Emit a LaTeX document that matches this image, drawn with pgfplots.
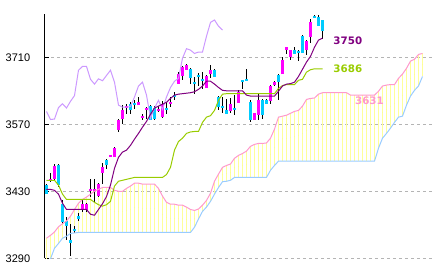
\documentclass[border=0pt]{standalone}
\usepackage{pgfplots}
\pgfplotsset{compat=1.18}
\usepackage{pgfplotstable}
\usepackage{fontspec}
\setmainfont{Liberation Sans}
\newfontfamily\lblfont{DejaVu Sans}
\definecolor{tenkan}{HTML}{800080}
\definecolor{kijun}{HTML}{99CC00}
\definecolor{chikou}{HTML}{CC99FF}
\definecolor{spanA}{HTML}{FF99CC}
\definecolor{spanB}{HTML}{99CCFF}
\definecolor{cloudc}{HTML}{FFFF99}
\definecolor{upc}{HTML}{FF00FF}
\definecolor{dnc}{HTML}{00CCFF}
\definecolor{gridc}{HTML}{B4B4B4}

\pgfplotstableread{
i A B
0 3332 3285
1 3338 3289
2 3345 3311
3 3356 3321
4 3362 3332
5 3368 3336
6 3378 3342
7 3392 3343
8 3405 3344
9 3413 3344
10 3418 3344
11 3424 3344
12 3430 3344
13 3434 3344
14 3438 3344
15 3438 3344
16 3438 3344
17 3432 3344
18 3430 3344
19 3430 3344
20 3436 3344
21 3441 3344
22 3447 3344
23 3447 3344
24 3445 3344
25 3445 3344
26 3445 3344
27 3445 3344
28 3436 3344
29 3420 3344
30 3407 3344
31 3403 3344
32 3403 3344
33 3401 3344
34 3401 3344
35 3397 3344
36 3392 3344
37 3390 3355
38 3393 3372
39 3401 3388
40 3411 3397
41 3426 3409
42 3451 3424
43 3466 3438
44 3480 3450
45 3484 3451
46 3487 3453
47 3499 3459
48 3505 3459
49 3509 3459
50 3514 3459
51 3524 3459
52 3528 3459
53 3530 3459
54 3530 3459
55 3531 3459
56 3541 3474
57 3560 3484
58 3585 3493
59 3587 3493
60 3589 3493
61 3593 3493
62 3597 3493
63 3599 3493
64 3608 3493
65 3622 3493
66 3624 3493
67 3625 3493
68 3633 3493
69 3636 3493
70 3636 3493
71 3636 3493
72 3636 3493
73 3636 3493
74 3636 3493
75 3636 3493
76 3631 3493
77 3631 3493
78 3631 3493
79 3631 3493
80 3631 3493
81 3631 3493
82 3631 3493
83 3639 3520
84 3650 3541
85 3652 3551
86 3653 3562
87 3653 3574
88 3666 3585
89 3675 3587
90 3687 3610
91 3702 3629
92 3706 3641
93 3716 3650
94 3718 3670
}\cloudtab

\pgfplotstableread{
i v
0 3453
1 3453
2 3453
3 3443
4 3424
5 3413
6 3413
7 3413
8 3413
9 3413
10 3413
11 3413
12 3407
13 3402
14 3399
15 3402
16 3409
17 3441
18 3451
19 3453
20 3455
21 3457
22 3459
23 3459
24 3459
25 3459
26 3459
27 3459
28 3459
29 3459
30 3465
31 3480
32 3516
33 3534
34 3541
35 3551
36 3554
37 3555
38 3555
39 3574
40 3585
41 3588
42 3599
43 3620
44 3633
45 3634
46 3634
47 3634
48 3634
49 3634
50 3634
51 3634
52 3634
53 3634
54 3634
55 3634
56 3634
57 3634
58 3645
59 3651
60 3653
61 3653
62 3653
63 3662
64 3664
65 3679
66 3684
67 3686
68 3686
69 3686
}\kijuntab

\pgfplotstableread{
i v
0 3434
1 3434
2 3432
3 3424
4 3405
5 3392
6 3392
7 3392
8 3392
9 3392
10 3392
11 3382
12 3380
13 3392
14 3404
15 3419
16 3443
17 3478
18 3501
19 3512
20 3516
21 3526
22 3539
23 3551
24 3564
25 3576
26 3591
27 3604
28 3608
29 3612
30 3616
31 3624
32 3631
33 3633
34 3634
35 3635
36 3636
37 3638
38 3643
39 3650
40 3660
41 3660
42 3654
43 3647
44 3641
45 3640
46 3640
47 3640
48 3640
49 3640
50 3631
51 3629
52 3629
53 3629
54 3629
55 3629
56 3629
57 3629
58 3639
59 3650
60 3654
61 3655
62 3658
63 3670
64 3685
65 3700
66 3712
67 3731
68 3746
69 3750
}\tenkantab

\pgfplotstableread{
i v
0 3597
1 3580
2 3581
3 3605
4 3613
5 3604
6 3618
7 3630
8 3683
9 3691
10 3691
11 3664
12 3654
13 3665
14 3661
15 3672
16 3683
17 3658
18 3610
19 3606
20 3606
21 3607
22 3627
23 3650
24 3658
25 3631
26 3583
27 3604
28 3620
29 3601
30 3627
31 3647
32 3660
33 3666
34 3708
35 3728
36 3725
37 3718
38 3721
39 3721
40 3754
41 3783
42 3788
43 3775
44 3767
}\chikoutab

\pgfplotstableread{
i h l t b
1 3468.4 3449.6 3453.1 3453.1
2 3488.0 3453.1 3483.0 3456.7
9 3411.3 3386.8 3402.9 3394.0
10 3405.0 3386.2 3402.9 3391.4
11 3455.2 3417.6 3433.2 3433.2
12 3455.2 3407.8 3432.2 3432.2
13 3446.8 3417.6 3444.7 3419.7
14 3488.6 3446.2 3480.9 3468.4
16 3505.4 3501.2 3504.3 3504.3
17 3522.7 3501.2 3520.0 3501.8
18 3582.1 3554.0 3578.5 3557.6
19 3609.8 3571.6 3599.4 3582.1
20 3611.9 3592.5 3606.3 3606.3
23 3627.2 3609.8 3613.4 3613.4
24 3592.5 3578.5 3587.5 3583.3
25 3606.3 3582.1 3601.5 3601.5
28 3607.8 3595.2 3599.4 3599.4
29 3618.2 3584.1 3613.4 3585.4
31 3627.2 3606.3 3614.6 3614.6
33 3679.4 3655.2 3676.1 3655.2
34 3691.4 3662.1 3689.9 3670.5
35 3695.5 3683.0 3693.5 3683.0
40 3672.5 3645.4 3670.5 3646.9
41 3693.5 3666.3 3684.5 3676.1
46 3625.9 3593.8 3613.4 3598.4
48 3641.2 3614.0 3637.7 3614.6
52 3593.1 3578.5 3593.1 3579.5
53 3632.9 3578.5 3621.3 3588.9
56 3651.7 3613.4 3649.6 3618.8
57 3660.0 3650.6 3658.6 3651.7
59 3710.8 3674.6 3705.4 3676.1
60 3729.0 3717.9 3728.3 3728.3
61 3724.8 3703.9 3724.8 3710.8
65 3745.7 3714.3 3744.7 3724.8
66 3789.6 3739.4 3783.3 3752.0
}\uptab

\pgfplotstableread{
i h l t b
0 3444.7 3423.8 3442.7 3425.3
3 3488.0 3439.1 3484.5 3442.7
4 3412.8 3362.6 3404.4 3365.9
5 3376.4 3327.7 3368.0 3357.0
6 3362.6 3294.3 3327.7 3322.0
7 3357.0 3342.3 3352.2 3347.1
8 3384.1 3367.4 3377.9 3373.1
15 3497.0 3477.6 3494.9 3484.5
21 3616.7 3592.5 3613.4 3600.9
22 3620.3 3602.9 3611.9 3611.9
26 3609.8 3578.5 3607.8 3579.9
27 3607.8 3580.0 3605.0 3582.1
30 3616.7 3592.5 3602.9 3602.9
32 3637.7 3620.3 3628.7 3628.7
36 3687.2 3655.2 3686.5 3667.7
37 3669.0 3634.3 3656.5 3656.5
38 3677.4 3649.6 3670.5 3670.5
39 3679.4 3644.8 3662.1 3662.1
42 3685.1 3668.4 3684.5 3669.0
43 3628.7 3599.4 3626.6 3605.7
44 3626.6 3593.8 3605.7 3605.7
45 3623.8 3591.0 3600.9 3591.0
47 3630.8 3588.9 3602.5 3602.5
49 3660.0 3644.8 3660.0 3660.0
50 3686.5 3661.1 3662.1 3662.1
51 3620.3 3574.9 3616.7 3579.5
54 3622.4 3582.1 3621.8 3588.9
55 3622.4 3611.9 3621.8 3613.4
58 3674.6 3620.3 3672.5 3658.6
62 3731.7 3717.5 3724.8 3717.9
63 3724.8 3702.4 3723.3 3719.1
64 3756.2 3718.5 3754.1 3718.5
67 3797.9 3791.7 3795.9 3791.7
68 3797.9 3775.0 3794.5 3775.0
69 3788.6 3749.3 3787.5 3765.1
}\dntab

\pgfplotsset{
  nomark/.style={only marks, mark=*, mark size=0pt, mark options={draw=none, fill=none}, forget plot},
}

\begin{document}
\begin{tikzpicture}
\begin{axis}[
  scale only axis, width=388pt, height=244.3pt,
  xmin=-0.375, xmax=96.625, ymin=3290, ymax=3800.5,
  axis x line=none, axis y line*=left,
  ytick={3290,3430,3570,3710}, xtick=\empty,
  ytick align=inside, major tick length=4pt,
  ymajorgrids,
  grid style={gridc, dash pattern=on 3pt off 3pt, line width=1pt},
  yticklabel style={font=\fontsize{11}{12}\selectfont, xshift=-11.3pt},
  /pgf/number format/assume math mode=true,
  /pgf/number format/1000 sep={},
  axis line style={black, line width=1pt},
  tick style={black, line width=1pt},
]
% cloud hatching
\addplot[nomark,
  error bars/.cd, y dir=both, y explicit, error mark=none,
  error bar style={draw=cloudc, line width=1pt}]
  table[x=i, y expr={(\thisrow{A}+\thisrow{B})/2}, y error expr={abs(\thisrow{A}-\thisrow{B})/2}] \cloudtab;
% wicks
\addplot[nomark,
  error bars/.cd, y dir=both, y explicit, error mark=none,
  error bar style={draw=black, line width=1pt}]
  table[x=i, y expr={(\thisrow{h}+\thisrow{l})/2}, y error expr={(\thisrow{h}-\thisrow{l})/2}] \uptab;
\addplot[nomark,
  error bars/.cd, y dir=both, y explicit, error mark=none,
  error bar style={draw=black, line width=1pt}]
  table[x=i, y expr={(\thisrow{h}+\thisrow{l})/2}, y error expr={(\thisrow{h}-\thisrow{l})/2}] \dntab;
% bodies
\addplot[nomark,
  error bars/.cd, y dir=both, y explicit, error mark=none,
  error bar style={draw=upc, line width=3.7pt}]
  table[x=i, y expr={(\thisrow{t}+\thisrow{b})/2}, y error expr={max((\thisrow{t}-\thisrow{b})/2,2.2)}] \uptab;
\addplot[nomark,
  error bars/.cd, y dir=both, y explicit, error mark=none,
  error bar style={draw=dnc, line width=3.7pt}]
  table[x=i, y expr={(\thisrow{t}+\thisrow{b})/2}, y error expr={max((\thisrow{t}-\thisrow{b})/2,2.2)}] \dntab;
% lines
\addplot[spanA, line width=1pt, mark=none] table[x=i, y=A] \cloudtab;
\addplot[spanB, line width=1pt, mark=none] table[x=i, y=B] \cloudtab;
\addplot[chikou, line width=1pt, mark=none] table[x=i, y=v] \chikoutab;
\addplot[kijun, line width=1pt, mark=none] table[x=i, y=v] \kijuntab;
\addplot[tenkan, line width=1pt, mark=none] table[x=i, y=v] \tenkantab;
% value labels
\node[anchor=west, inner sep=0pt, text=tenkan, font=\lblfont\bfseries\fontsize{10.3}{12}\selectfont] at (axis cs:71.7,3744.7) {3750};
\node[anchor=west, inner sep=0pt, text=kijun, font=\lblfont\bfseries\fontsize{10.3}{12}\selectfont] at (axis cs:71.7,3686.5) {3686};
\node[anchor=west, inner sep=0pt, text=spanA, font=\lblfont\bfseries\fontsize{10.3}{12}\selectfont] at (axis cs:77.1,3618.2) {3631};
\end{axis}
\pgfresetboundingbox
\path[use as bounding box] (-45pt,-13.7pt) rectangle (388pt,258.3pt);
\end{tikzpicture}
\end{document}
